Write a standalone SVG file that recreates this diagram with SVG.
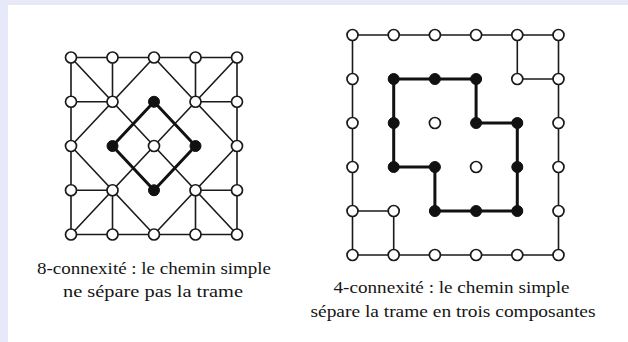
<svg xmlns="http://www.w3.org/2000/svg" width="628" height="342" viewBox="0 0 628 342">
<style>
.t{stroke:#1a1a1a;stroke-width:1.6;fill:none;stroke-linejoin:round}
.k{stroke:#111;stroke-width:3;fill:none;stroke-linejoin:round}
.w{fill:#fff;stroke:#1a1a1a;stroke-width:1.7}
.b{fill:#111;stroke:#111;stroke-width:1}
.lbl{font-family:"Liberation Serif","DejaVu Serif",serif;font-size:16px;fill:#151515;text-anchor:middle}
</style>
<rect x="0" y="0" width="628" height="342" fill="#e7e9f9"/>
<rect x="8" y="5" width="620" height="337" fill="#ffffff"/>
<g id="connectors">
<g id="left-edges">
<rect class="t" x="71" y="57.5" width="166" height="177"/>
<path class="t" d="M71 57.5L112.5 101.75M112.5 57.5V101.75M71 101.75H112.5"/>
<path class="t" d="M237 57.5L195.5 101.75M195.5 57.5V101.75M237 101.75H195.5"/>
<path class="t" d="M71 234.5L112.5 190.25M112.5 234.5V190.25M71 190.25H112.5"/>
<path class="t" d="M237 234.5L195.5 190.25M195.5 234.5V190.25M237 190.25H195.5"/>
<path class="t" d="M154 57.5L71 146L154 234.5L237 146Z"/>
<path class="t" d="M112.5 101.75L195.5 190.25M195.5 101.75L112.5 190.25"/>
<path class="k" d="M154 101.75L112.5 146L154 190.25L195.5 146Z"/>
</g>
<g id="right-edges">
<rect class="t" x="352.5" y="35" width="206" height="220"/>
<path class="t" d="M517.3 35V79H558.5"/>
<path class="t" d="M352.5 211H393.7V255"/>
<path class="k" d="M393.7 79H476.1V123H517.3V211H434.9V167H393.7Z"/>
</g>
</g>
<g id="left-nodes">
<g id="L00"><circle class="w" cx="71" cy="57.5" r="5.5"/></g>
<g id="L10"><circle class="w" cx="112.5" cy="57.5" r="5.5"/></g>
<g id="L20"><circle class="w" cx="154" cy="57.5" r="5.5"/></g>
<g id="L30"><circle class="w" cx="195.5" cy="57.5" r="5.5"/></g>
<g id="L40"><circle class="w" cx="237" cy="57.5" r="5.5"/></g>
<g id="L01"><circle class="w" cx="71" cy="101.75" r="5.5"/></g>
<g id="L11"><circle class="w" cx="112.5" cy="101.75" r="5.5"/></g>
<g id="L21"><circle class="b" cx="154" cy="101.75" r="5.5"/></g>
<g id="L31"><circle class="w" cx="195.5" cy="101.75" r="5.5"/></g>
<g id="L41"><circle class="w" cx="237" cy="101.75" r="5.5"/></g>
<g id="L02"><circle class="w" cx="71" cy="146" r="5.5"/></g>
<g id="L12"><circle class="b" cx="112.5" cy="146" r="5.5"/></g>
<g id="L22"><circle class="w" cx="154" cy="146" r="5.5"/></g>
<g id="L32"><circle class="b" cx="195.5" cy="146" r="5.5"/></g>
<g id="L42"><circle class="w" cx="237" cy="146" r="5.5"/></g>
<g id="L03"><circle class="w" cx="71" cy="190.25" r="5.5"/></g>
<g id="L13"><circle class="w" cx="112.5" cy="190.25" r="5.5"/></g>
<g id="L23"><circle class="b" cx="154" cy="190.25" r="5.5"/></g>
<g id="L33"><circle class="w" cx="195.5" cy="190.25" r="5.5"/></g>
<g id="L43"><circle class="w" cx="237" cy="190.25" r="5.5"/></g>
<g id="L04"><circle class="w" cx="71" cy="234.5" r="5.5"/></g>
<g id="L14"><circle class="w" cx="112.5" cy="234.5" r="5.5"/></g>
<g id="L24"><circle class="w" cx="154" cy="234.5" r="5.5"/></g>
<g id="L34"><circle class="w" cx="195.5" cy="234.5" r="5.5"/></g>
<g id="L44"><circle class="w" cx="237" cy="234.5" r="5.5"/></g>
</g>
<g id="right-nodes">
<g id="R00"><circle class="w" cx="352.5" cy="35" r="5.5"/></g>
<g id="R10"><circle class="w" cx="393.7" cy="35" r="5.5"/></g>
<g id="R20"><circle class="w" cx="434.9" cy="35" r="5.5"/></g>
<g id="R30"><circle class="w" cx="476.1" cy="35" r="5.5"/></g>
<g id="R40"><circle class="w" cx="517.3" cy="35" r="5.5"/></g>
<g id="R50"><circle class="w" cx="558.5" cy="35" r="5.5"/></g>
<g id="R01"><circle class="w" cx="352.5" cy="79" r="5.5"/></g>
<g id="R11"><circle class="b" cx="393.7" cy="79" r="5.5"/></g>
<g id="R21"><circle class="b" cx="434.9" cy="79" r="5.5"/></g>
<g id="R31"><circle class="b" cx="476.1" cy="79" r="5.5"/></g>
<g id="R41"><circle class="w" cx="517.3" cy="79" r="5.5"/></g>
<g id="R51"><circle class="w" cx="558.5" cy="79" r="5.5"/></g>
<g id="R02"><circle class="w" cx="352.5" cy="123" r="5.5"/></g>
<g id="R12"><circle class="b" cx="393.7" cy="123" r="5.5"/></g>
<g id="R22"><circle class="w" cx="434.9" cy="123" r="5.5"/></g>
<g id="R32"><circle class="b" cx="476.1" cy="123" r="5.5"/></g>
<g id="R42"><circle class="b" cx="517.3" cy="123" r="5.5"/></g>
<g id="R52"><circle class="w" cx="558.5" cy="123" r="5.5"/></g>
<g id="R03"><circle class="w" cx="352.5" cy="167" r="5.5"/></g>
<g id="R13"><circle class="b" cx="393.7" cy="167" r="5.5"/></g>
<g id="R23"><circle class="b" cx="434.9" cy="167" r="5.5"/></g>
<g id="R33"><circle class="w" cx="476.1" cy="167" r="5.5"/></g>
<g id="R43"><circle class="b" cx="517.3" cy="167" r="5.5"/></g>
<g id="R53"><circle class="w" cx="558.5" cy="167" r="5.5"/></g>
<g id="R04"><circle class="w" cx="352.5" cy="211" r="5.5"/></g>
<g id="R14"><circle class="w" cx="393.7" cy="211" r="5.5"/></g>
<g id="R24"><circle class="b" cx="434.9" cy="211" r="5.5"/></g>
<g id="R34"><circle class="b" cx="476.1" cy="211" r="5.5"/></g>
<g id="R44"><circle class="b" cx="517.3" cy="211" r="5.5"/></g>
<g id="R54"><circle class="w" cx="558.5" cy="211" r="5.5"/></g>
<g id="R05"><circle class="w" cx="352.5" cy="255" r="5.5"/></g>
<g id="R15"><circle class="w" cx="393.7" cy="255" r="5.5"/></g>
<g id="R25"><circle class="w" cx="434.9" cy="255" r="5.5"/></g>
<g id="R35"><circle class="w" cx="476.1" cy="255" r="5.5"/></g>
<g id="R45"><circle class="w" cx="517.3" cy="255" r="5.5"/></g>
<g id="R55"><circle class="w" cx="558.5" cy="255" r="5.5"/></g>
</g>
<g id="captions">
<text class="lbl" x="154" y="274" textLength="234" lengthAdjust="spacingAndGlyphs">8-connexité : le chemin simple</text>
<text class="lbl" x="153" y="297" textLength="180" lengthAdjust="spacingAndGlyphs">ne sépare pas la trame</text>
<text class="lbl" x="451.5" y="293" textLength="236" lengthAdjust="spacingAndGlyphs">4-connexité : le chemin simple</text>
<text class="lbl" x="453" y="317" textLength="285" lengthAdjust="spacingAndGlyphs">sépare la trame en trois composantes</text>
</g>
</svg>
